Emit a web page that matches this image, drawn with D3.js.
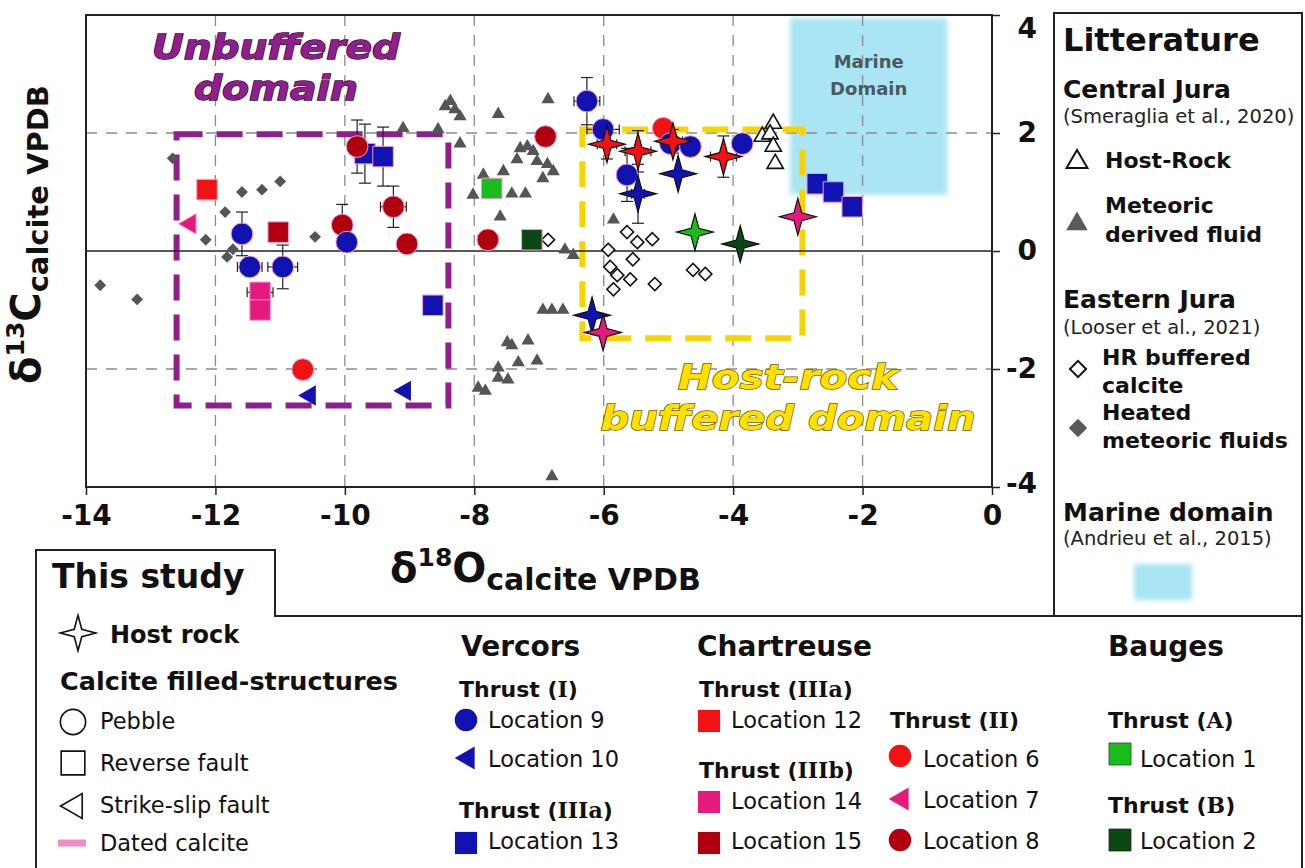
<!DOCTYPE html>
<meta charset="utf-8">
<style>
  body { margin: 0; background: #fff; }
  text { font-family: "DejaVu Sans", Verdana, sans-serif; }
  .grid line { stroke: #8a8a8a; stroke-width: 1.3; stroke-dasharray: 11,9; }
  .err line { stroke: #222; stroke-width: 1.2; }
</style>
<svg width="1305" height="868"></svg>
<script src="https://cdn.jsdelivr.net/npm/d3@7"></script>
<script>
  // ---- data: [d18O, d13C, xErr, yErr] ----
  var loc9  = [[-6.26,2.54,0.2,0.4],[-6.01,2.06,0.25,0],[-5.64,1.29,0,0.45],[-4.97,1.82,0,0],[-4.66,1.77,0,0],
               [-3.86,1.82,0,0],[-11.59,0.29,0,0.37],[-9.97,0.15,0,0],[-11.47,-0.27,0.19,0],[-10.96,-0.27,0.23,0.37]];
  var loc10 = [[-10.54,-2.45,0,0],[-9.07,-2.37,0,0]];
  var loc13 = [[-9.69,1.65,0,0.5],[-9.41,1.60,0,0.5],[-8.64,-0.92,0,0],[-2.70,1.14,0,0],[-2.45,1.0,0,0],[-2.16,0.75,0,0]];
  var loc12 = [[-12.13,1.04,0,0]];
  var loc14 = [[-11.31,-0.70,0.2,0],[-11.31,-1.0,0,0]];
  var loc15 = [[-11.03,0.32,0,0.15]];
  var loc6  = [[-10.65,-2.01,0,0],[-5.08,2.08,0,0]];
  var loc7  = [[-12.39,0.46,0,0]];
  var loc8  = [[-9.81,1.77,0,0.45],[-9.25,0.75,0.2,0.35],[-10.04,0.44,0,0.35],[-9.04,0.12,0,0],[-6.90,1.94,0,0],[-7.79,0.19,0.15,0]];
  var loc1  = [[-7.73,1.06,0,0]];
  var loc2  = [[-7.11,0.19,0,0]];
  // host rock (stars) by location colour
  var hostRed    = [[-5.95,1.81,0.15,0.25],[-5.47,1.69,0.2,0.35],[-4.93,1.86,0.15,0.2],[-4.15,1.60,0.2,0.35]];
  var hostBlue   = [[-5.47,0.97,0.1,0.5],[-4.85,1.31,0,0],[-6.18,-1.09,0,0]];
  var hostGreen  = [[-4.59,0.32,0,0]];
  var hostDkGreen= [[-3.89,0.12,0,0]];
  var hostPink   = [[-3.0,0.58,0,0],[-6.01,-1.38,0,0]];
  // litterature
  var meteoric = [[-9.10,2.08],[-8.56,2.06],[-8.45,2.45],[-8.37,2.54],[-8.30,2.40],[-8.22,2.28],[-8.22,1.82],[-7.63,2.32],
                  [-6.86,2.57],[-7.29,1.74],[-7.18,1.77],[-7.09,1.69],[-7.34,1.55],[-7.03,1.52],[-6.87,1.47],[-6.78,1.35],
                  [-6.94,1.23],[-7.86,1.29],[-8.02,0.95],[-7.55,1.35],[-7.42,0.97],[-7.21,0.97],[-7.60,0.58],[-5.85,0.53],
                  [-6.60,0.02],[-6.47,-0.07],[-6.94,-1.0],[-6.80,-1.0],[-6.63,-1.0],[-7.49,-1.55],[-7.42,-1.60],[-7.17,-1.52],
                  [-7.63,-1.98],[-7.32,-1.89],[-7.03,-1.86],[-7.63,-2.15],[-7.48,-2.18],[-7.94,-2.32],[-7.83,-2.37],[-6.80,-3.82]];
  var hostRockLit = [[-3.38,2.16],[-3.55,1.94],[-3.43,1.98],[-3.38,1.77],[-3.35,1.48]];
  var heatedMeteoric = [[-12.66,1.57],[-11.59,1.0],[-11.28,1.04],[-11.0,1.18],[-11.85,0.66],[-12.15,0.19],[-10.46,0.24],
                        [-13.78,-0.58],[-13.21,-0.82],[-11.82,-0.10],[-11.73,0.03]];
  var hrBuffered = [[-6.86,0.19],[-5.64,0.32],[-5.48,0.15],[-5.25,0.20],[-5.93,0.02],[-5.55,-0.14],[-5.90,-0.27],
                    [-5.79,-0.41],[-5.59,-0.48],[-5.85,-0.65],[-5.21,-0.56],[-4.62,-0.32],[-4.43,-0.39]];
  var marineDomain = {x0:-3.12, x1:-0.69, y0:0.95, y1:3.95};
  var unbufferedBox = {x0:-12.6, x1:-8.4, y0:-2.62, y1:1.98};
  var hostBufferedBox = {x0:-6.33, x1:-2.93, y0:-1.48, y1:2.06};
  var xTicks = [-14,-12,-10,-8,-6,-4,-2,0];
  var yTicks = [4,2,0,-2,-4];

  var svg = d3.select("svg");
  var x = d3.scaleLinear().domain([-14,0]).range([86,992]);
  var y = d3.scaleLinear().domain([-4,4]).range([487,15]);

  var BLUE="#1012b2", RED="#ef1313", DKRED="#b0000e", PINK="#e6197c", GREEN="#19bd1b", DKGREEN="#0b4712", GRAY="#555";

  // marine domain
  var defs = svg.append("defs");
  defs.append("filter").attr("id","blur").append("feGaussianBlur").attr("stdDeviation",2.5);
  svg.append("rect")
    .attr("x", x(marineDomain.x0)).attr("y", y(marineDomain.y1))
    .attr("width", x(marineDomain.x1)-x(marineDomain.x0)).attr("height", y(marineDomain.y0)-y(marineDomain.y1))
    .attr("fill","#a9e5f2").attr("filter","url(#blur)");
  svg.append("text").attr("x",(x(marineDomain.x0)+x(marineDomain.x1))/2).attr("y",68)
    .attr("text-anchor","middle").attr("font-size",18).attr("font-weight","bold").attr("fill","#4a5a60").text("Marine");
  svg.append("text").attr("x",(x(marineDomain.x0)+x(marineDomain.x1))/2).attr("y",95)
    .attr("text-anchor","middle").attr("font-size",18).attr("font-weight","bold").attr("fill","#4a5a60").text("Domain");

  // grid
  var grid = svg.append("g").attr("class","grid");
  grid.selectAll(".gx").data(xTicks.filter(function(d){return d>-14 && d<0;})).enter().append("line")
    .attr("x1",x).attr("x2",x).attr("y1",y(4)).attr("y2",y(-4));
  grid.selectAll(".gy").data([2,-2]).enter().append("line")
    .attr("x1",x(-14)).attr("x2",x(0)).attr("y1",y).attr("y2",y);

  // domain boxes
  function box(b, col, dash) {
    svg.append("rect").attr("x",x(b.x0)).attr("y",y(b.y1))
      .attr("width",x(b.x1)-x(b.x0)).attr("height",y(b.y0)-y(b.y1))
      .attr("fill","none").attr("stroke",col).attr("stroke-width",6).attr("stroke-dasharray",dash);
  }
  box(unbufferedBox, "#8e1f8c", "26,14");
  box(hostBufferedBox, "#f7d300", "26,14");

  // frame, zero line
  svg.append("line").attr("x1",x(-14)).attr("x2",x(0)).attr("y1",y(0)).attr("y2",y(0)).attr("stroke","#222").attr("stroke-width",1.5);
  svg.append("rect").attr("x",x(-14)).attr("y",y(4)).attr("width",x(0)-x(-14)).attr("height",y(-4)-y(4))
    .attr("fill","none").attr("stroke","#222").attr("stroke-width",2);

  // axes
  var xAxis = svg.append("g").attr("transform","translate(0,"+y(-4)+")")
    .call(d3.axisBottom(x).tickValues(xTicks).tickSize(8).tickPadding(10).tickFormat(d3.format("d")));
  var yAxis = svg.append("g").attr("transform","translate("+x(0)+",0)")
    .call(d3.axisRight(y).tickValues(yTicks).tickSize(8).tickPadding(4).tickFormat(d3.format("d")));
  [xAxis,yAxis].forEach(function(a){
    a.select(".domain").remove();
    a.selectAll("line").attr("stroke","#222").attr("stroke-width",1.5);
    a.selectAll("text").attr("font-family","DejaVu Sans").attr("font-weight","bold").attr("font-size",28).attr("fill","#111");
  });
  xAxis.selectAll("text").text(function(d){return d<0 ? "-"+Math.abs(d) : d;});
  yAxis.selectAll("text").text(function(d){return d<0 ? "-"+Math.abs(d) : d;})
    .attr("text-anchor","end").attr("x",45)
    .attr("dy", function(d){ return d===4 ? "0.8em" : (d===-4 ? "0.2em" : "0.32em"); });

  // axis titles
  var xt = svg.append("text").attr("x",390).attr("y",582).attr("font-weight","bold").attr("fill","#111");
  xt.append("tspan").attr("font-size",40).text("δ");
  xt.append("tspan").attr("font-size",25).attr("dy",-16).text("18");
  xt.append("tspan").attr("font-size",40).attr("dy",16).text("O");
  xt.append("tspan").attr("font-size",30).attr("dy",8).text("calcite VPDB");
  var yt = svg.append("text").attr("transform","translate(40,384) rotate(-90)").attr("font-weight","bold").attr("fill","#111");
  yt.append("tspan").attr("font-size",40).text("δ");
  yt.append("tspan").attr("font-size",25).attr("dy",-16).text("13");
  yt.append("tspan").attr("font-size",40).attr("dy",16).text("C");
  yt.append("tspan").attr("font-size",29).attr("dy",8).text("calcite VPDB");

  // domain titles
  function outlinedText(lines, widths, cx, ys, size, fill, stroke) {
    lines.forEach(function(t,i){
      svg.append("text").attr("x",cx).attr("y",ys[i]).attr("text-anchor","middle")
        .attr("font-size",size).attr("font-weight","bold").attr("font-style","italic")
        .attr("textLength",widths[i]).attr("lengthAdjust","spacingAndGlyphs")
        .attr("fill",fill).attr("stroke",stroke).attr("stroke-width",1.4).attr("paint-order","stroke")
        .text(t);
    });
  }
  outlinedText(["Unbuffered","domain"], [248,164], 276, [59,100], 34, "#8e1f8c", "#3d0a3c");
  outlinedText(["Host-rock","buffered domain"], [220,375], 788, [389,430], 34, "#ffe000", "#6d6000");

  // star symbol
  var star4 = { draw: function(ctx, size) {
    var R = Math.sqrt(size)*0.75, r = R*0.3;
    for (var i=0;i<8;i++){
      var a = i*Math.PI/4 - Math.PI/2, rr = (i%2===0)?R:r;
      if(i===0) ctx.moveTo(rr*Math.cos(a), rr*Math.sin(a)); else ctx.lineTo(rr*Math.cos(a), rr*Math.sin(a));
    }
    ctx.closePath();
  }};

  // error bars
  var err = svg.append("g").attr("class","err");
  function errorBars(data) {
    data.forEach(function(d){
      var cx=x(d[0]), cy=y(d[1]);
      if (d[2]>0) {
        err.append("line").attr("x1",x(d[0]-d[2])).attr("x2",x(d[0]+d[2])).attr("y1",cy).attr("y2",cy);
        err.append("line").attr("x1",x(d[0]-d[2])).attr("x2",x(d[0]-d[2])).attr("y1",cy-5).attr("y2",cy+5);
        err.append("line").attr("x1",x(d[0]+d[2])).attr("x2",x(d[0]+d[2])).attr("y1",cy-5).attr("y2",cy+5);
      }
      if (d[3]>0) {
        err.append("line").attr("x1",cx).attr("x2",cx).attr("y1",y(d[1]-d[3])).attr("y2",y(d[1]+d[3]));
        err.append("line").attr("x1",cx-6).attr("x2",cx+6).attr("y1",y(d[1]-d[3])).attr("y2",y(d[1]-d[3]));
        err.append("line").attr("x1",cx-6).attr("x2",cx+6).attr("y1",y(d[1]+d[3])).attr("y2",y(d[1]+d[3]));
      }
    });
  }
  [loc9,loc13,loc14,loc15,loc8,hostRed,hostBlue].forEach(errorBars);

  function plot(data, type, size, fill, stroke, sw, rot) {
    svg.append("g").selectAll("path").data(data).enter().append("path")
      .attr("d", d3.symbol().type(type).size(size))
      .attr("transform", function(d){ return "translate("+x(d[0])+","+y(d[1])+") rotate("+(rot||0)+")"; })
      .attr("fill", fill).attr("stroke", stroke).attr("stroke-width", sw);
  }
  // litterature
  plot(meteoric, d3.symbolTriangle, 75, GRAY, "none", 0);
  plot(heatedMeteoric, d3.symbolSquare, 70, GRAY, "none", 0, 45);
  plot(hrBuffered, d3.symbolSquare, 85, "#fff", "#111", 1.6, 45);
  plot(hostRockLit, d3.symbolTriangle, 115, "#fff", "#111", 1.6);
  // this study
  var halo = "#f59ad0";
  plot(loc13, d3.symbolSquare, 420, BLUE, halo, 1);
  plot(loc12, d3.symbolSquare, 420, RED, halo, 1);
  plot(loc14, d3.symbolSquare, 420, PINK, halo, 1);
  plot(loc15, d3.symbolSquare, 420, DKRED, halo, 1);
  plot(loc1, d3.symbolSquare, 420, GREEN, halo, 1);
  plot(loc2, d3.symbolSquare, 420, DKGREEN, halo, 1);
  plot(loc6, d3.symbolCircle, 370, RED, halo, 1);
  plot(loc8, d3.symbolCircle, 370, DKRED, halo, 1);
  plot(loc9, d3.symbolCircle, 370, BLUE, halo, 1);
  plot(loc10, d3.symbolTriangle, 180, BLUE, "none", 0, -90);
  plot(loc7, d3.symbolTriangle, 180, PINK, halo, 1, -90);
  plot(hostRed, star4, 600, RED, "#111", 1.2);
  plot(hostBlue, star4, 600, BLUE, "#111", 1.2);
  plot(hostGreen, star4, 600, GREEN, "#111", 1.2);
  plot(hostDkGreen, star4, 600, DKGREEN, "#111", 1.2);
  plot(hostPink, star4, 600, PINK, "#111", 1.2);

  // ---- legends ----
  function txt(t, px, py, size, bold, fill) {
    return svg.append("text").attr("x",px).attr("y",py).attr("font-size",size)
      .attr("font-weight",bold?"bold":"normal").attr("fill",fill||"#111").text(t);
  }
  function sym(type, size, px, py, fill, stroke, sw, rot) {
    svg.append("path").attr("d", d3.symbol().type(type).size(size)())
      .attr("transform","translate("+px+","+py+") rotate("+(rot||0)+")")
      .attr("fill",fill).attr("stroke",stroke).attr("stroke-width",sw||0);
  }
  function thrust(label, roman, px, py) {
    var t = txt(label+" (", px, py, 22, true);
    t.append("tspan").attr("font-family","DejaVu Serif").text(roman);
    t.append("tspan").text(")");
  }

  // right legend
  svg.append("rect").attr("x",1054).attr("y",13).attr("width",248).attr("height",603)
    .attr("fill","none").attr("stroke","#222").attr("stroke-width",2);
  txt("Litterature",1063,51,32,true);
  txt("Central Jura",1063,98,25,true);
  txt("(Smeraglia et al., 2020)",1063,123,19.5,false,"#222");
  sym(d3.symbolTriangle,190,1077,162,"#fff","#111",2);
  txt("Host-Rock",1105,168,22,true);
  sym(d3.symbolTriangle,200,1077,224,"#5a5a5a","none");
  txt("Meteoric",1105,213,22,true);
  txt("derived fluid",1105,242,22,true);
  txt("Eastern Jura",1063,308,25,true);
  txt("(Looser et al., 2021)",1063,334,19.5,false,"#222");
  sym(d3.symbolSquare,130,1078,369,"#fff","#111",2,45);
  txt("HR buffered",1102,365,22,true);
  txt("calcite",1102,393,22,true);
  sym(d3.symbolSquare,170,1078,428,"#5a5a5a","none",0,45);
  txt("Heated",1102,420,22,true);
  txt("meteoric fluids",1102,448,22,true);
  txt("Marine domain",1063,521,25,true);
  txt("(Andrieu et al., 2015)",1063,545,19.5,false,"#222");
  svg.append("rect").attr("x",1134).attr("y",564).attr("width",58).attr("height",36)
    .attr("fill","#a9e5f2").attr("filter","url(#blur)");

  // bottom legend frame
  svg.append("path").attr("d","M36,870 V550 H275 V616 H1302 V870")
    .attr("fill","none").attr("stroke","#222").attr("stroke-width",2);
  txt("This study",52,588,33,true);
  sym(star4,560,78,633,"#fff","#111",1.6);
  txt("Host rock",110,643,24,true);
  txt("Calcite filled-structures",60,690,25.5,true);
  sym(d3.symbolCircle,500,73,722,"#fff","#111",1.6);
  txt("Pebble",100,729,22.5,false);
  sym(d3.symbolSquare,560,73,763,"#fff","#111",1.6);
  txt("Reverse fault",100,771,22.5,false);
  sym(d3.symbolTriangle,270,75,806,"#fff","#111",1.6,-90);
  txt("Strike-slip fault",100,813,22.5,false);
  svg.append("line").attr("x1",58).attr("x2",86).attr("y1",843).attr("y2",843).attr("stroke","#f48cc4").attr("stroke-width",7);
  txt("Dated calcite",100,851,22.5,false);

  txt("Vercors",461,656,28,true);
  thrust("Thrust","I",459,697);
  sym(d3.symbolCircle,400,466,720,BLUE,"none");
  txt("Location 9",488,728,22.5,false);
  sym(d3.symbolTriangle,230,468,758,BLUE,"none",0,-90);
  txt("Location 10",488,767,22.5,false);
  thrust("Thrust","IIIa",459,818);
  sym(d3.symbolSquare,490,466,843,BLUE,"none");
  txt("Location 13",488,849,22.5,false);

  txt("Chartreuse",697,656,28,true);
  thrust("Thrust","IIIa",699,697);
  sym(d3.symbolSquare,490,709,721,RED,"none");
  txt("Location 12",731,728,22.5,false);
  thrust("Thrust","IIIb",699,778);
  sym(d3.symbolSquare,490,709,802,PINK,"none");
  txt("Location 14",731,809,22.5,false);
  sym(d3.symbolSquare,490,709,843,DKRED,"none");
  txt("Location 15",731,849,22.5,false);

  thrust("Thrust","II",890,728);
  sym(d3.symbolCircle,400,900,756,RED,"none");
  txt("Location 6",923,767,22.5,false);
  sym(d3.symbolTriangle,230,902,799,PINK,"none",0,-90);
  txt("Location 7",923,808,22.5,false);
  sym(d3.symbolCircle,400,900,840,DKRED,"none");
  txt("Location 8",923,849,22.5,false);

  txt("Bauges",1108,656,28,true);
  thrust("Thrust","A",1108,728);
  sym(d3.symbolSquare,490,1120,754,GREEN,"#222",0.6);
  txt("Location 1",1140,767,22.5,false);
  thrust("Thrust","B",1108,813);
  sym(d3.symbolSquare,490,1120,840,DKGREEN,"#222",0.6);
  txt("Location 2",1140,849,22.5,false);
</script>
